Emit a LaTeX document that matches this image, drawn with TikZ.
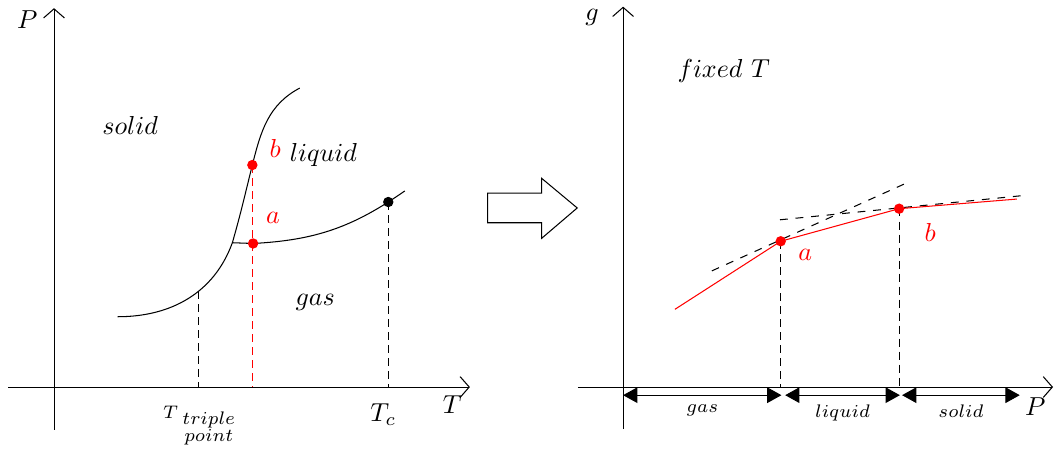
\documentclass[tikz,border=0pt]{standalone}
\usepackage{amsmath}
\usetikzlibrary{arrows.meta,calc}
\begin{document}
\begin{tikzpicture}[>=Latex,
 axis/.style={-{Straight Barb[length=3.5pt,width=8pt]}},
 dashline/.style={dash pattern=on 3pt off 2pt},
 spanarrow/.style={{Triangle[length=5.5pt,width=6pt]}-{Triangle[length=5.5pt,width=6pt]}},
 lbl/.style={font=\scriptsize}]
 \useasboundingbox (-0.73,-0.85) rectangle (13.54,5.23);
 % phase diagram P(T)
 \draw[axis] (0,-0.58)--(0,5.12);
 \draw[axis] (-0.62,0)--(5.62,0);
 \node (PL) at (-0.36,4.96) {$P$};
 \node (TL) at (5.38,-0.24) {$T$};
 \coordinate (sub) at (0.86,0.95);
 \coordinate (tp) at (2.41,1.95);
 \coordinate (bL) at (2.68,3.0);
 \coordinate (mt) at (3.32,4.04);
 \coordinate (aL) at (2.69,1.94);
 \coordinate (vp) at (4.74,2.65);
 \draw (sub) to[out=0,in=250] coordinate[pos=0.59] (sd) (tp)
  to[out=74,in=256] (bL) to[out=76,in=208] (mt);
 \draw (tp)--(aL) to[out=3,in=215] coordinate[pos=0.89] (cp) (vp);
 \draw[dashline] (sd)--(sd |- 0,0);
 \draw[dashline] (cp)--(cp |- 0,0);
 \draw[dashline,red] (bL)--(bL |- 0,0);
 \fill[red] (bL) circle (2pt) (aL) circle (2pt);
 \fill (cp) circle (2pt);
 \node[red] (bLl) at (2.99,3.23) {$b$};
 \node[red] (aLl) at (2.96,2.28) {$a$};
 \node (solidL) at (1.03,3.54) {$solid$};
 \node (liquidL) at (3.64,3.14) {$liquid$};
 \node (gasL) at (3.53,1.14) {$gas$};
 \node[font=\scriptsize] (tpl) at (1.97,-0.52) {$T_{\ \substack{\textstyle triple\\ \textstyle point}}$};
 \node (Tc) at (4.45,-0.37) {$T_c$};
 % block arrow
 \draw (5.86,2.62)--(6.59,2.62)--(6.59,2.82)--(7.07,2.42)--(6.59,2.01)
  --(6.59,2.22)--(5.86,2.22)--cycle;
 % g(P) at fixed T
 \begin{scope}[xshift=7.69cm]
  \draw[axis] (0,-0.57)--(0,5.14);
  \draw[axis] (-0.61,0)--(5.81,0);
  \node (gR) at (-0.42,5.0) {$g$};
  \node (PR) at (5.57,-0.27) {$P$};
  \node (fix) at (1.36,4.27) {$fixed\ T$};
  \coordinate (s1) at (0.70,1.05);
  \coordinate (aR) at (2.13,1.97);
  \coordinate (bR) at (3.73,2.41);
  \coordinate (s2) at (5.32,2.54);
  \draw[dashed] (1.20,1.57)--(3.88,2.78);
  \draw[dashed] (2.12,2.26)--(5.43,2.59);
  \draw[red] (s1)--(aR)--(bR)--(s2);
  \draw[dashline] (aR)--(aR |- 0,0);
  \draw[dashline] (bR)--(bR |- 0,0);
  \fill[red] (aR) circle (2pt) (bR) circle (2pt);
  \node[red] (aRl) at (2.46,1.78) {$a$};
  \node[red] (bRl) at (4.15,2.09) {$b$};
  \coordinate (r0) at (0,-0.11);
  \coordinate (r1) at (2.14,-0.11);
  \coordinate (r2) at (2.19,-0.11);
  \coordinate (r3) at (3.74,-0.11);
  \coordinate (r4) at (3.77,-0.11);
  \coordinate (r5) at (5.36,-0.11);
  \draw[spanarrow] (r0)-- node[lbl,below] (gasR) {$gas$} (r1);
  \draw[spanarrow] (r2)-- node[lbl,below] (liqR) {$liquid$} (r3);
  \draw[spanarrow] (r4)-- node[lbl,below] (solR) {$solid$} (r5);
 \end{scope}
\end{tikzpicture}
\end{document}
